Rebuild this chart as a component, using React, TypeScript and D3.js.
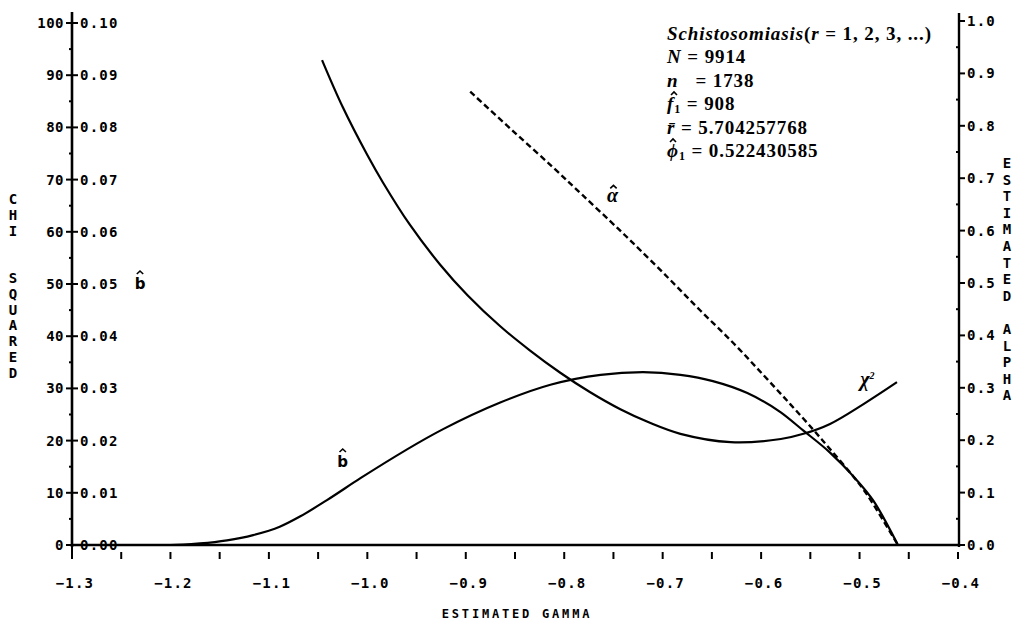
import React, { useEffect, useRef } from "react";
import * as d3 from "d3";

// chi-square curve
const chiGamma = [-1.046, -1.025, -1.0, -0.984, -0.957, -0.926, -0.898, -0.865, -0.835, -0.804, -0.774, -0.743, -0.713, -0.682, -0.631, -0.58, -0.557, -0.53, -0.496, -0.462];
const chiValues = [92.9, 83.9, 74.7, 69.4, 61.4, 53.7, 47.8, 41.9, 37.3, 33.0, 29.3, 26.0, 23.4, 21.3, 19.7, 20.3, 21.3, 23.2, 27.0, 31.2];

// b-hat curve
const bGamma = [-1.3, -1.25, -1.2, -1.17, -1.1425, -1.116, -1.089, -1.068, -1.041, -1.007, -0.923, -0.865, -0.814, -0.763, -0.72, -0.682, -0.649, -0.614, -0.58, -0.557, -0.53, -0.506, -0.486, -0.461];
const bValues = [0, 0, 0, 0.0003, 0.0009, 0.0019, 0.0035, 0.0055, 0.0086, 0.0128, 0.0222, 0.0273, 0.0307, 0.0326, 0.0331, 0.0326, 0.0314, 0.0291, 0.0254, 0.0219, 0.0177, 0.0131, 0.0085, 0];

// alpha-hat (dashed)
const alphaGamma = [-0.8955, -0.852, -0.811, -0.781, -0.746, -0.73, -0.695, -0.662, -0.628, -0.598, -0.57, -0.547, -0.53, -0.506, -0.492, -0.461];
const alphaValues = [0.865, 0.79, 0.72, 0.667, 0.605, 0.576, 0.511, 0.448, 0.385, 0.325, 0.268, 0.22, 0.183, 0.13, 0.095, 0];

const gammaTicks = [-1.3, -1.2, -1.1, -1.0, -0.9, -0.8, -0.7, -0.6, -0.5, -0.4];
const chiTicks = [0, 10, 20, 30, 40, 50, 60, 70, 80, 90, 100];
const bTicks = [0, 0.01, 0.02, 0.03, 0.04, 0.05, 0.06, 0.07, 0.08, 0.09, 0.1];
const alphaTicks = [0, 0.1, 0.2, 0.3, 0.4, 0.5, 0.6, 0.7, 0.8, 0.9, 1.0];

const leftTitle = ["C", "H", "I", "", "", "S", "Q", "U", "A", "R", "E", "D"];
const rightTitle = ["E", "S", "T", "I", "M", "A", "T", "E", "D", "", "A", "L", "P", "H", "A"];

const MONO = "'DejaVu Sans Mono', monospace";
const SERIF = "'Liberation Serif', 'DejaVu Serif', serif";
const SANS = "'DejaVu Sans', sans-serif";

const App = () => {
  const ref = useRef<SVGSVGElement>(null);

  useEffect(() => {
    document.body.style.margin = "0";
    const width = 1027;
    const height = 621;
    const svg = d3.select(ref.current).attr("width", width).attr("height", height).style("background", "white");
    svg.selectAll("*").remove();

    const x = d3.scaleLinear().domain([-1.3, -0.4]).range([72, 958]);
    const yChi = d3.scaleLinear().domain([0, 100]).range([545, 23]);
    const yB = d3.scaleLinear().domain([0, 0.1]).range([545, 23]);
    const yAlpha = d3.scaleLinear().domain([0, 1]).range([545, 21]);

    const xLeft = x(-1.3);
    const xRight = 959;
    const yBase = yChi(0);

    const g = svg.append("g");

    // hat accent: a little caret path above a letter (hx, hy = apex)
    const hat = (hx: number, hy: number, w = 3.2) =>
      g.append("path").attr("d", `M${hx - w},${hy + 3} L${hx},${hy} L${hx + w},${hy + 3}`)
        .attr("fill", "none").attr("stroke", "#000").attr("stroke-width", 1.6);

    // === axes ===
    g.append("line").attr("x1", xLeft).attr("x2", xLeft).attr("y1", yBase + 2).attr("y2", 12)
      .attr("stroke", "#000").attr("stroke-width", 2.6);
    g.append("line").attr("x1", xRight).attr("x2", xRight).attr("y1", yBase + 2).attr("y2", 13)
      .attr("stroke", "#000").attr("stroke-width", 2.4);
    g.append("line").attr("x1", xLeft).attr("x2", xRight).attr("y1", yBase).attr("y2", yBase)
      .attr("stroke", "#000").attr("stroke-width", 2.6);

    // left ticks
    chiTicks.forEach((t) => {
      g.append("line").attr("x1", xLeft - 6).attr("x2", xLeft + 6).attr("y1", yChi(t)).attr("y2", yChi(t))
        .attr("stroke", "#000").attr("stroke-width", 2);
      if (t < 100) {
        g.append("line").attr("x1", xLeft - 3).attr("x2", xLeft).attr("y1", yChi(t + 5)).attr("y2", yChi(t + 5))
          .attr("stroke", "#000").attr("stroke-width", 2);
      }
    });
    g.selectAll(".chiLab").data(chiTicks).enter().append("text")
      .attr("x", xLeft - 8).attr("y", (d) => yChi(d)).attr("dy", "0.36em")
      .attr("text-anchor", "end").attr("font-family", MONO).attr("font-weight", "bold")
      .attr("font-size", 14).attr("letter-spacing", 0.5).text((d) => String(d));
    g.selectAll(".bLab").data(bTicks).enter().append("text")
      .attr("x", xLeft + 8).attr("y", (d) => yB(d)).attr("dy", "0.36em")
      .attr("font-family", MONO).attr("font-weight", "bold")
      .attr("font-size", 14).attr("letter-spacing", 1.2).text((d) => d3.format(".2f")(d));

    // right ticks
    alphaTicks.forEach((t) => {
      g.append("line").attr("x1", xRight).attr("x2", xRight + 6).attr("y1", yAlpha(t)).attr("y2", yAlpha(t))
        .attr("stroke", "#000").attr("stroke-width", 2);
      if (t < 1) {
        g.append("line").attr("x1", xRight - 3).attr("x2", xRight).attr("y1", yAlpha(t + 0.05)).attr("y2", yAlpha(t + 0.05))
          .attr("stroke", "#000").attr("stroke-width", 2);
      }
    });
    g.selectAll(".aLab").data(alphaTicks).enter().append("text")
      .attr("x", xRight + 8).attr("y", (d) => yAlpha(d)).attr("dy", "0.36em")
      .attr("font-family", MONO).attr("font-weight", "bold")
      .attr("font-size", 14).attr("letter-spacing", 1.2).text((d) => d3.format(".1f")(d));

    // bottom ticks (every 0.05, hanging below the axis)
    d3.range(0, 19).forEach((i) => {
      const v = -1.3 + i * 0.05;
      g.append("line").attr("x1", x(v)).attr("x2", x(v)).attr("y1", i === 0 ? yBase : yBase + 7).attr("y2", yBase + 14)
        .attr("stroke", "#000").attr("stroke-width", 2);
    });
    g.selectAll(".gLab").data(gammaTicks).enter().append("text")
      .attr("x", (d) => x(d) + 3).attr("y", 583).attr("dy", "0.36em")
      .attr("text-anchor", "middle").attr("font-family", MONO).attr("font-weight", "bold")
      .attr("font-size", 14).attr("letter-spacing", 1.2).text((d) => d3.format(".1f")(d));

    // axis titles
    g.append("text").attr("x", 517).attr("y", 614).attr("dy", "0.36em").attr("text-anchor", "middle")
      .attr("font-family", MONO).attr("font-weight", "bold").attr("font-size", 12).attr("letter-spacing", 2.8)
      .text("ESTIMATED GAMMA");
    leftTitle.forEach((c, i) => {
      g.append("text").attr("x", 13).attr("y", 199 + i * 15.8).attr("dy", "0.36em").attr("text-anchor", "middle")
        .attr("font-family", MONO).attr("font-weight", "bold").attr("font-size", 14).text(c);
    });
    rightTitle.forEach((c, i) => {
      g.append("text").attr("x", 1007).attr("y", 163 + i * 16.6).attr("dy", "0.36em").attr("text-anchor", "middle")
        .attr("font-family", MONO).attr("font-weight", "bold").attr("font-size", 14).text(c);
    });

    // === curves ===
    const chiLine = d3.line<number>().x((d, i) => x(chiGamma[i])).y((d) => yChi(d)).curve(d3.curveCatmullRom.alpha(0.5));
    const bLine = d3.line<number>().x((d, i) => x(bGamma[i])).y((d) => yB(d)).curve(d3.curveMonotoneX);
    const aLine = d3.line<number>().x((d, i) => x(alphaGamma[i])).y((d) => yAlpha(d)).curve(d3.curveCatmullRom.alpha(0.5));

    g.append("path").attr("d", chiLine(chiValues)).attr("fill", "none").attr("stroke", "#000").attr("stroke-width", 2.2);
    g.append("path").attr("d", bLine(bValues)).attr("fill", "none").attr("stroke", "#000").attr("stroke-width", 2.2);
    g.append("path").attr("d", aLine(alphaValues)).attr("fill", "none").attr("stroke", "#000")
      .attr("stroke-width", 2.4).attr("stroke-dasharray", "6,3.5");

    // curve labels
    const bx = x(-1.025);
    const by = yChi(15.9);
    g.append("text").attr("x", bx).attr("y", by).attr("dy", "0.36em").attr("text-anchor", "middle")
      .attr("font-family", SANS).attr("font-weight", "bold").attr("font-size", 15).text("b");
    hat(bx, by - 13);
    g.append("text").attr("x", 140).attr("y", yB(0.05)).attr("dy", "0.36em").attr("text-anchor", "middle")
      .attr("font-family", SANS).attr("font-weight", "bold").attr("font-size", 15).text("b");
    hat(140, yB(0.05) - 13);

    const ax = x(-0.751);
    const ay = yAlpha(0.669);
    g.append("text").attr("x", ax).attr("y", ay).attr("dy", "0.36em").attr("text-anchor", "middle")
      .attr("font-family", SERIF).attr("font-weight", "bold").attr("font-style", "italic").attr("font-size", 20).text("\u03B1");
    hat(ax + 1, ay - 9);

    const chiLab = g.append("text").attr("x", x(-0.492)).attr("y", yChi(31.8)).attr("dy", "0.36em").attr("text-anchor", "middle")
      .attr("font-family", SERIF).attr("font-weight", "bold").attr("font-style", "italic").attr("font-size", 20);
    chiLab.append("tspan").text("\u03C7");
    chiLab.append("tspan").attr("font-size", 10).attr("dy", "-0.7em").text("2");

    // === legend ===
    const lx = 667;
    const leg = g.append("g").attr("font-family", SERIF).attr("font-weight", "bold").attr("font-size", 19)
      .attr("letter-spacing", 0.9);
    const row = (yy: number) => leg.append("text").attr("x", lx).attr("y", yy).attr("dy", "0.36em");
    const r1 = row(33);
    r1.append("tspan").attr("font-style", "italic").text("Schistosomiasis");
    r1.append("tspan").text("(");
    r1.append("tspan").attr("font-style", "italic").text("r");
    r1.append("tspan").text(" = 1, 2, 3, ...)");
    const r2 = row(56);
    r2.append("tspan").attr("font-style", "italic").text("N");
    r2.append("tspan").text(" = 9914");
    const r3 = row(80);
    r3.append("tspan").attr("font-style", "italic").text("n");
    r3.append("tspan").style("white-space", "pre").text("   = 1738");
    const r4 = row(103);
    r4.append("tspan").attr("font-style", "italic").text("f");
    r4.append("tspan").attr("font-size", 12).attr("dy", "0.3em").text("1");
    r4.append("tspan").attr("dy", "-0.2em").text(" = 908");
    hat(lx + 7, 103 - 11, 3);
    const r5 = row(127);
    r5.append("tspan").attr("font-style", "italic").text("r\u0304");
    r5.append("tspan").text(" = 5.704257768");
    const r6 = row(150);
    r6.append("tspan").attr("font-style", "italic").text("\u03D5");
    r6.append("tspan").attr("font-size", 12).attr("dy", "0.3em").text("1");
    r6.append("tspan").attr("dy", "-0.2em").text(" = 0.522430585");
    hat(lx + 6, 150 - 11, 3);
  }, []);

  return <svg ref={ref} style={{ display: "block" }} />;
};

export default App;
